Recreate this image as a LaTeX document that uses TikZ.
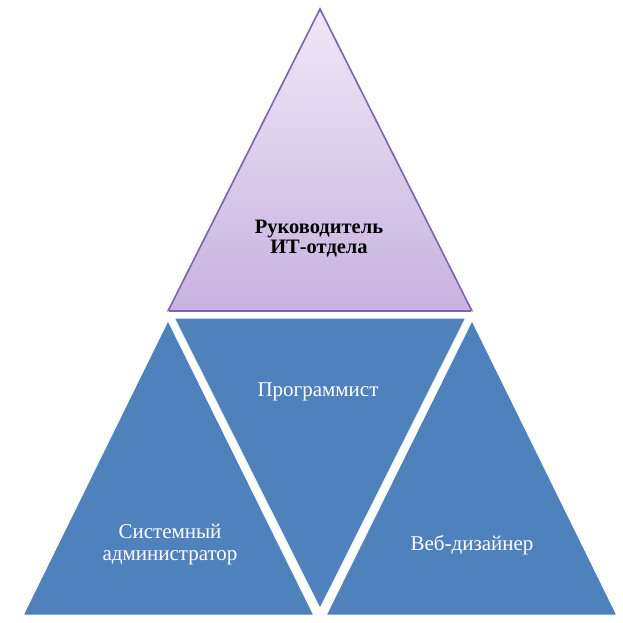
\documentclass[tikz,border=0pt]{standalone}
\usepackage{fontspec}
\setmainfont{Liberation Serif}
\usetikzlibrary{shadows}
\definecolor{segblue}{HTML}{4F81BD}
\definecolor{segpurple}{HTML}{7F63A8}
\definecolor{toplav}{HTML}{EEE8F7}
\definecolor{botlav}{HTML}{C8B2E0}
\begin{document}
\begin{tikzpicture}[x=1pt,y=-1pt,
  seg/.style={fill=segblue,draw=white,line width=5pt,line join=miter,
    drop shadow={opacity=0.18,shadow xshift=2pt,shadow yshift=-2pt}},
  lbl/.style={font=\fontsize{21}{22}\selectfont,align=center,text=white,inner sep=0pt},
  leadlbl/.style={font=\fontsize{20.5}{20}\selectfont\bfseries,align=center,text=black,inner sep=0pt},
]
\useasboundingbox (0,0) rectangle (622,623);
% top segment
\path[top color=toplav,bottom color=botlav,draw=segpurple,line width=1.6pt,line join=miter]
  (320,9) -- (168,311) -- (472,311) -- cycle;
% bottom segments
\path[seg] (168,316) -- (20,617) -- (317,617) -- cycle;
\path[seg] (171,316) -- (469,316) -- (320,613) -- cycle;
\path[seg] (472,316) -- (323,617) -- (620,617) -- cycle;
% labels
\node[leadlbl] (lead) at (319,239) {Руководитель\\ИТ-отдела};
\node[lbl] (prog) at (318,392) {Программист};
\node[lbl] (admin) at (170,545) {Системный\\администратор};
\node[lbl] (web) at (472,545) {Веб-дизайнер};
\end{tikzpicture}
\end{document}
